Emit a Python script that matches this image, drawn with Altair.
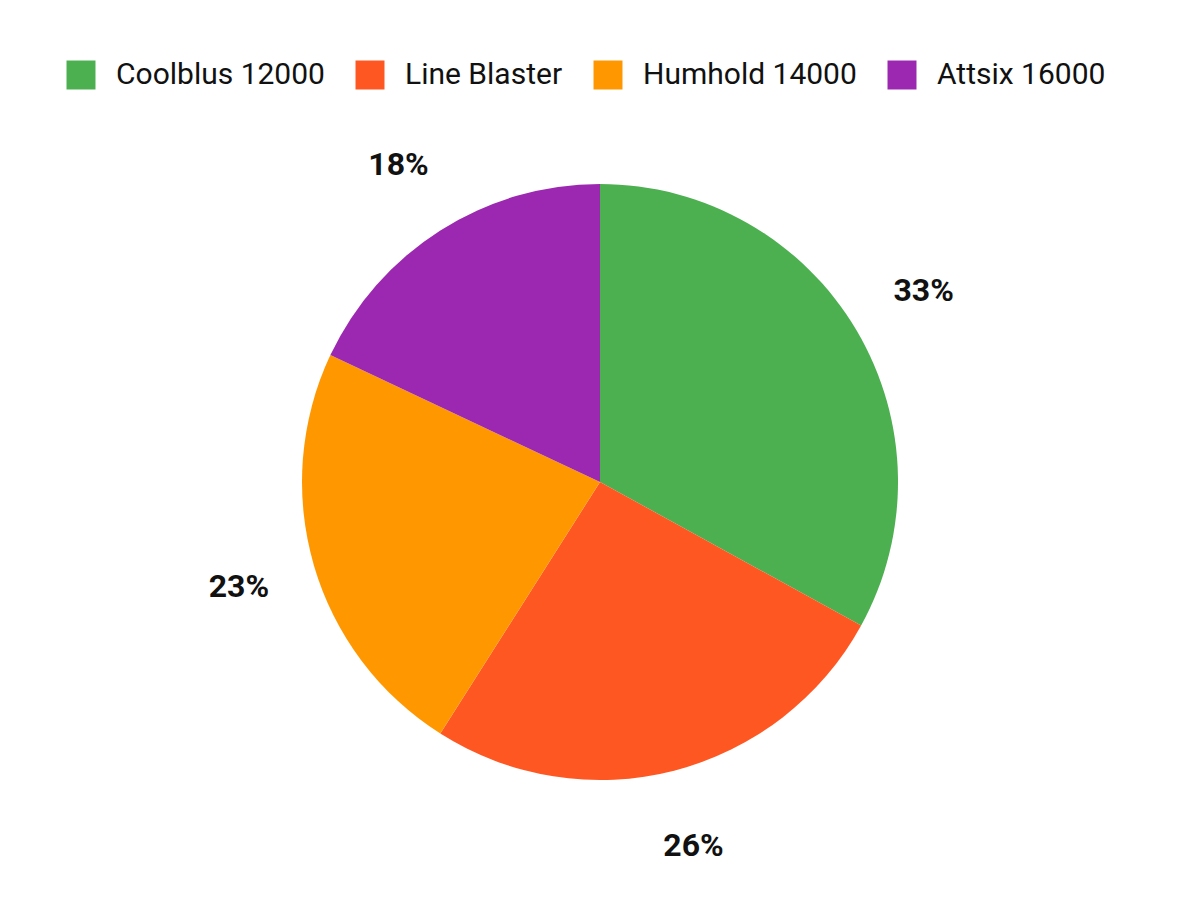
import altair as alt
import pandas as pd

products = ["Coolblus 12000", "Line Blaster", "Humhold 14000", "Attsix 16000"]
shares = [33, 26, 23, 18]
colors = ["#4CAF50", "#FF5722", "#FF9800", "#9C27B0"]

df = pd.DataFrame({"product": products, "share": shares, "order": list(range(len(products)))})
df["label"] = df["share"].astype(str) + "%"

base = alt.Chart(df).encode(
    theta=alt.Theta("share:Q", stack=True),
    order=alt.Order("order:Q"),
)

pie = base.mark_arc(outerRadius=298, stroke=None).encode(
    color=alt.Color(
        "product:N",
        sort=products,
        scale=alt.Scale(domain=products, range=colors),
        legend=alt.Legend(
            title=None,
            orient="none",
            direction="horizontal",
            legendX=58,
            legendY=-12,
            symbolType="square",
            symbolSize=840,
            symbolStrokeWidth=0,
            labelFontSize=30,
            labelFont="Roboto",
            labelColor="#111111",
            labelOffset=20,
            labelLimit=400,
            columnPadding=30,
            symbolOpacity=1,
        ),
    )
)

text = base.mark_text(
    radius=376, font="Roboto", fontSize=32, fontWeight="bold", color="#111111"
).encode(text="label:N")

chart = (pie + text).properties(
    width=1184,
    height=820,
    padding={"top": 52, "left": 0, "right": 0, "bottom": 0},
).configure_view(stroke=None)

chart.save("out.html", embed_options={"renderer": "svg", "actions": False})
